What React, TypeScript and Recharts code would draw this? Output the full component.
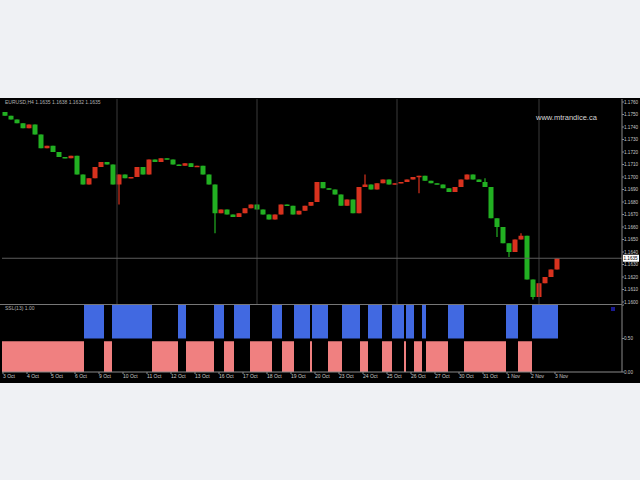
import { Bar, BarChart, Cell, ComposedChart, ReferenceLine, XAxis, YAxis } from "recharts";

// price closes, one candle every 3 slots (slot = 2px column)
const firstOpen = 1.1752;
const closes = [
  1.1749, 1.1746, 1.1743, 1.1739, 1.1742, 1.1734, 1.1723, 1.1725, 1.172, 1.1716,
  1.1715, 1.1717, 1.1702, 1.1694, 1.1699, 1.1708, 1.1712, 1.171, 1.1694, 1.1702,
  1.1699, 1.17, 1.1708, 1.1702, 1.1714, 1.1712, 1.1715, 1.1714, 1.171, 1.1709,
  1.1711, 1.1708, 1.1709, 1.1702, 1.1694, 1.1671, 1.1674, 1.167, 1.1668, 1.1671,
  1.1675, 1.1678, 1.1674, 1.167, 1.1666, 1.167, 1.1678, 1.1677, 1.167, 1.1673,
  1.1677, 1.168, 1.1696, 1.1691, 1.169, 1.1686, 1.1677, 1.1682, 1.1671, 1.1692,
  1.1694, 1.169, 1.1695, 1.1698, 1.1694, 1.1695, 1.1696, 1.1698, 1.17, 1.1701,
  1.1697, 1.1695, 1.1694, 1.1691, 1.1688, 1.1692, 1.1698, 1.1702, 1.1698, 1.1696,
  1.1692, 1.1667, 1.166, 1.1647, 1.164, 1.165, 1.1653, 1.1618, 1.1604, 1.1615,
  1.162, 1.1626, 1.1635,
];
// long wicks: [candle index, extreme price]
const wicks: [number, number][] = [
  [19, 1.1678], [35, 1.1655], [60, 1.1702], [69, 1.1687], [80, 1.1699],
  [82, 1.1652], [84, 1.1636], [86, 1.1655], [88, 1.1602],
];
const priceTicks = [
  1.16, 1.161, 1.162, 1.163, 1.164, 1.165, 1.166, 1.167, 1.168, 1.169,
  1.17, 1.171, 1.172, 1.173, 1.174, 1.175, 1.176,
];
const lastPrice = 1.1635;

// indicator runs: [side, length in slots]; 1 = buy (blue), -1 = sell (pink)
const signalRuns: [number, number][] = [
  [-1, 41], [1, 10], [-1, 4], [1, 20], [-1, 13], [1, 4], [-1, 14], [1, 5],
  [-1, 5], [1, 8], [-1, 11], [1, 5], [-1, 6], [1, 8], [-1, 1], [1, 8],
  [-1, 7], [1, 9], [-1, 4], [1, 7], [-1, 5], [1, 6], [-1, 1], [1, 4],
  [-1, 4], [1, 2], [-1, 11], [1, 8], [-1, 21], [1, 6], [-1, 7], [1, 13],
];
const separatorSlots = [57, 127, 197, 268];
const dateSlots = [
  0, 12, 24, 36, 48, 60, 72, 84, 96, 108, 120, 132, 144, 156, 168, 180, 192,
  204, 216, 228, 240, 252, 264, 276,
];
const dateLabels = [
  "3 Oct", "4 Oct", "5 Oct", "6 Oct", "9 Oct", "10 Oct", "11 Oct", "12 Oct",
  "13 Oct", "16 Oct", "17 Oct", "18 Oct", "19 Oct", "20 Oct", "23 Oct", "24 Oct",
  "25 Oct", "26 Oct", "27 Oct", "30 Oct", "31 Oct", "1 Nov", "2 Nov", "3 Nov",
];

const SLOTS = 310;
const UP = "#d8321e";
const DOWN = "#22b022";
const BUY = "#4169e1";
const SELL = "#f08080";
const AXIS = "#8a8a8a";

const priceRows: any[] = Array.from({ length: SLOTS }, (_, slot) => ({ slot }));
closes.forEach((close, k) => {
  const open = k === 0 ? firstOpen : closes[k - 1];
  let high = Math.max(open, close);
  let low = Math.min(open, close);
  const w = wicks.find((x) => x[0] === k);
  if (w) {
    high = Math.max(high, w[1]);
    low = Math.min(low, w[1]);
  }
  const slot = k * 3 + 1;
  priceRows[slot] = { slot, open, close, high, low, range: [low, high] };
});

const signalRows: any[] = [];
signalRuns.forEach(([side, len]) => {
  for (let i = 0; i < len; i++) {
    signalRows.push({
      slot: signalRows.length,
      side,
      range: side > 0 ? [0.5, 1] : [0, 0.46],
    });
  }
});
while (signalRows.length < SLOTS) signalRows.push({ slot: signalRows.length, side: 0, range: null });

function Candle(props: any) {
  const { x, y, width, height, payload } = props;
  if (!payload || payload.open == null || !isFinite(y)) return <g />;
  const { open, close, high, low } = payload;
  const k = high - low > 0 ? height / (high - low) : 0;
  const cx = x + width / 2;
  const top = y + (high - Math.max(open, close)) * k;
  const bodyH = Math.max(1.5, Math.abs(close - open) * k);
  const color = close >= open ? UP : DOWN;
  return (
    <g>
      <line x1={cx} x2={cx} y1={y} y2={y + Math.max(height, 1)} stroke={color} strokeWidth={1.2} />
      <rect x={cx - 2.5} y={top} width={5} height={bodyH} fill={color} />
    </g>
  );
}

function PriceTag(props: any) {
  const { viewBox } = props;
  const x = viewBox.x + viewBox.width + 1;
  return (
    <g>
      <rect x={x} y={viewBox.y - 3.5} width={16} height={7} fill="#ffffff" />
      <text x={x + 0.5} y={viewBox.y + 1.8} fontSize={4.6} fill="#000" fontFamily="Liberation Sans">
        {lastPrice.toFixed(4)}
      </text>
    </g>
  );
}

const tinyText = { fontSize: 5, fill: "#c8c8c8", fontFamily: "Liberation Sans" };
const axisText = { fontSize: 4.6, fill: "#c8c8c8", fontFamily: "Liberation Sans" };

export default function App() {
  return (
    <div style={{ position: "fixed", left: 0, top: 0, width: 640, height: 480, background: "#eff1f4" }}>
      <div style={{ position: "absolute", left: 0, top: 98, width: 640, height: 285, background: "#000" }} />

      <div style={{ position: "absolute", left: 0, top: 98 }}>
        <ComposedChart
          width={640}
          height={207}
          data={priceRows}
          margin={{ top: 1, right: 0, bottom: 1, left: 2 }}
          barCategoryGap={0}
        >
          <XAxis dataKey="slot" type="category" hide />
          <YAxis
            orientation="right"
            width={18}
            domain={[1.15984, 1.17624]}
            allowDataOverflow
            ticks={priceTicks}
            interval={0}
            tickFormatter={(v: number) => v.toFixed(4)}
            tick={axisText}
            tickSize={2}
            tickMargin={0}
            stroke={AXIS}
          />
          {separatorSlots.map((s) => (
            <ReferenceLine key={s} x={s} stroke="#3a3a3a" strokeWidth={1} />
          ))}
          <ReferenceLine y={lastPrice} stroke="#5c5c5c" strokeWidth={1} label={<PriceTag />} />
          <Bar dataKey="range" isAnimationActive={false} shape={(p: any) => <Candle {...p} />} />
        </ComposedChart>
      </div>

      <div style={{ position: "absolute", left: 0, top: 304, width: 622, height: 0, borderTop: "1px solid #777" }} />

      <div style={{ position: "absolute", left: 0, top: 304 }}>
        <BarChart
          width={640}
          height={78}
          data={signalRows}
          margin={{ top: 1, right: 0, bottom: 0, left: 2 }}
          barCategoryGap={0}
        >
          <XAxis
            dataKey="slot"
            type="category"
            height={10}
            ticks={dateSlots}
            interval={0}
            tickFormatter={(v: number) => dateLabels[dateSlots.indexOf(v)] ?? ""}
            tick={{ ...tinyText, textAnchor: "start" }}
            tickSize={2}
            tickMargin={0}
            stroke={AXIS}
          />
          <YAxis
            orientation="right"
            width={18}
            domain={[0, 1]}
            ticks={[0, 0.5, 1]}
            tickFormatter={(v: number) => (v === 1 ? "" : v.toFixed(2))}
            tick={axisText}
            tickSize={2}
            tickMargin={0}
            stroke={AXIS}
          />
          <Bar dataKey="range" isAnimationActive={false}>
            {signalRows.map((r) => (
              <Cell key={r.slot} fill={r.side > 0 ? BUY : r.side < 0 ? SELL : "transparent"} />
            ))}
          </Bar>
        </BarChart>
      </div>

      <div style={{ position: "absolute", left: 5, top: 100, ...textCss, fontSize: 5 }}>
        EURUSD,H4 1.1635 1.1638 1.1632 1.1635
      </div>
      <div style={{ position: "absolute", left: 536, top: 114, ...textCss, fontSize: 7.5, color: "#d6d6d6" }}>
        www.mtrandice.ca
      </div>
      <div style={{ position: "absolute", left: 5, top: 306, ...textCss, fontSize: 5 }}>
        SSL(13) 1.00
      </div>
      <div style={{ position: "absolute", left: 611, top: 307, width: 4, height: 4, background: "#1a1a90" }} />
    </div>
  );
}

const textCss = { color: "#b0b0b0", fontFamily: "Liberation Sans", lineHeight: 1, whiteSpace: "nowrap" as const };
